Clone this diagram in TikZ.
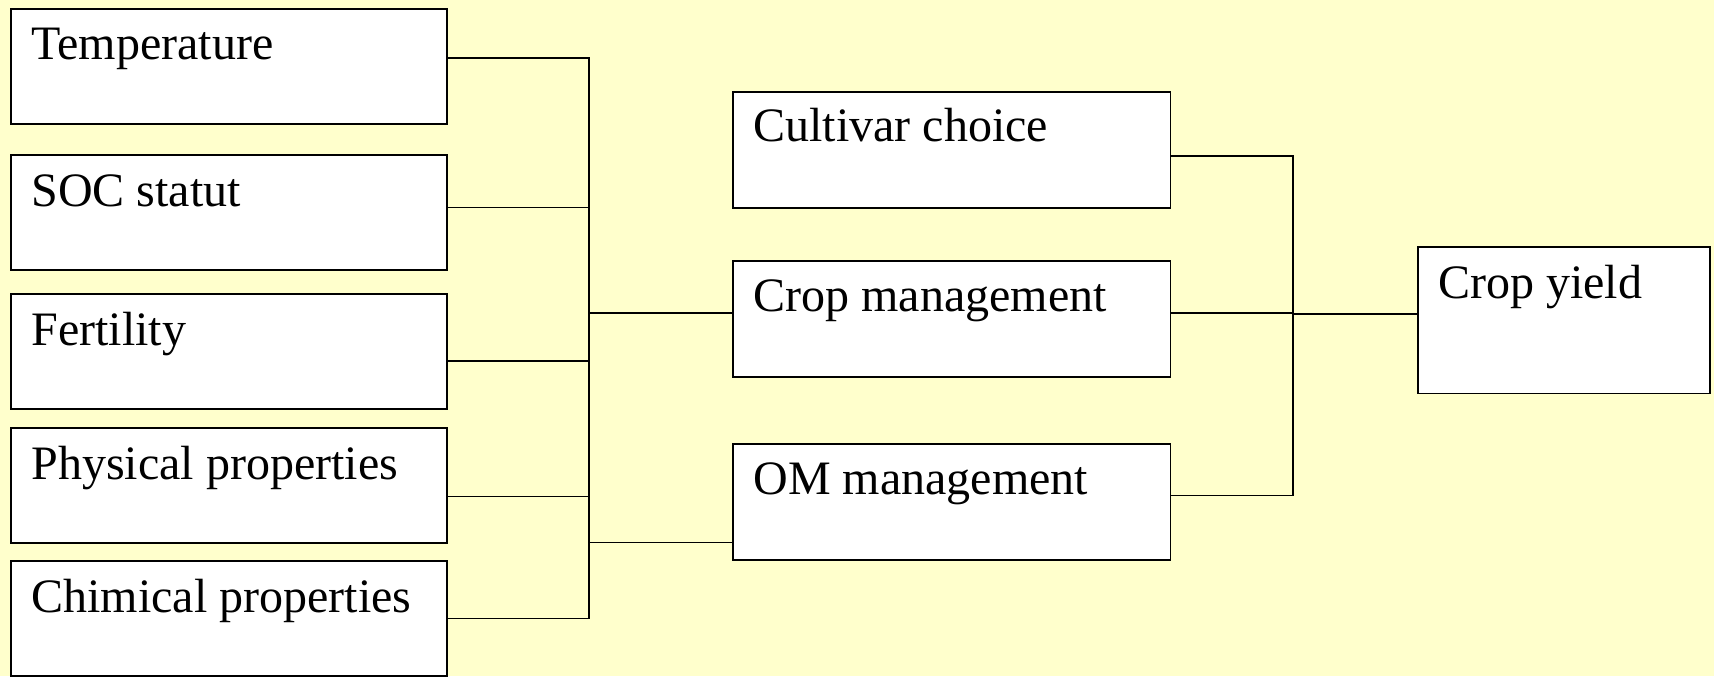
\documentclass[tikz,border=0pt]{standalone}
\usepackage{fontspec}
\setmainfont{Liberation Serif}
\usetikzlibrary{calc}
\definecolor{paper}{RGB}{255,255,204}
\begin{document}
\begin{tikzpicture}[x=0.5pt,y=-0.5pt,
  box/.style={draw=black, fill=white, line width=0.9pt, anchor=north west,
    inner sep=0pt, minimum width=218pt, minimum height=57.5pt},
  midbox/.style={box, minimum width=218.75pt, minimum height=58pt},
  lbl/.style={anchor=base west, inner sep=0pt, font=\fontsize{24}{28}\selectfont},
  wire/.style={draw=black, line width=0.8pt}]
\useasboundingbox (0,0) rectangle (1714,676);
\fill[paper] (0,0) rectangle (1714,676);

% input factors
\node[box] (temp) at (10,7.7) {};
\node[box] (soc)  at (10,154) {};
\node[box] (fert) at (10,293) {};
\node[box] (phys) at (10,427) {};
\node[box] (chim) at (10,560) {};
\node[lbl] (temp-t) at ([shift={(21,52)}]temp.north west) {Temperature};
\node[lbl] (soc-t)  at ([shift={(21,52)}]soc.north west) {SOC statut};
\node[lbl] (fert-t) at ([shift={(21,52)}]fert.north west) {Fertility};
\node[lbl] (phys-t) at ([shift={(21,52)}]phys.north west) {Physical properties};
\node[lbl] (chim-t) at ([shift={(21,52)}]chim.north west) {Chimical properties};

% management
\node[midbox] (cult) at (732,90.7) {};
\node[midbox] (crop) at (732,260) {};
\node[midbox] (om)   at (732,443) {};
\node[lbl] (cult-t) at ([shift={(21,51)}]cult.north west) {Cultivar choice};
\node[lbl] (crop-t) at ([shift={(21,51)}]crop.north west) {Crop management};
\node[lbl] (om-t)   at ([shift={(21,51)}]om.north west) {OM management};

% outcome
\node[box, minimum width=146pt, minimum height=73.3pt] (yield) at (1416.7,246) {};
\node[lbl] (yield-t) at ([shift={(21,52)}]yield.north west) {Crop yield};

% bus lines
\coordinate (busL) at (589,0);
\coordinate (busR) at (1293,0);

\coordinate (p1) at ([yshift=4pt]temp.east);
\coordinate (p2) at ([yshift=2.4pt]soc.east);
\coordinate (p3) at ([yshift=-4.75pt]fert.east);
\coordinate (p4) at ([yshift=-5.6pt]phys.east);
\coordinate (p5) at (chim.east);
\coordinate (q1) at ([yshift=3pt]crop.west);
\coordinate (q2) at ([yshift=-20.25pt]om.west);

\draw[wire] (p1) -- (p1 -| busL) -- (p5 -| busL) -- (p5);
\draw[wire] (p2) -- (p2 -| busL);
\draw[wire] (p3) -- (p3 -| busL);
\draw[wire] (p4) -- (p4 -| busL);
\draw[wire] (q1 -| busL) -- (q1);
\draw[wire] (q2 -| busL) -- (q2);

\coordinate (r1) at ([yshift=-3.2pt]cult.east);
\coordinate (r2) at ([yshift=3pt]crop.east);
\coordinate (r3) at ([yshift=3.25pt]om.east);
\coordinate (s1) at ([yshift=3.2pt]yield.west);

\draw[wire] (r1) -- (r1 -| busR) -- (r3 -| busR) -- (r3);
\draw[wire] (r2) -- (r2 -| busR);
\draw[wire] (s1 -| busR) -- (s1);
\end{tikzpicture}
\end{document}
